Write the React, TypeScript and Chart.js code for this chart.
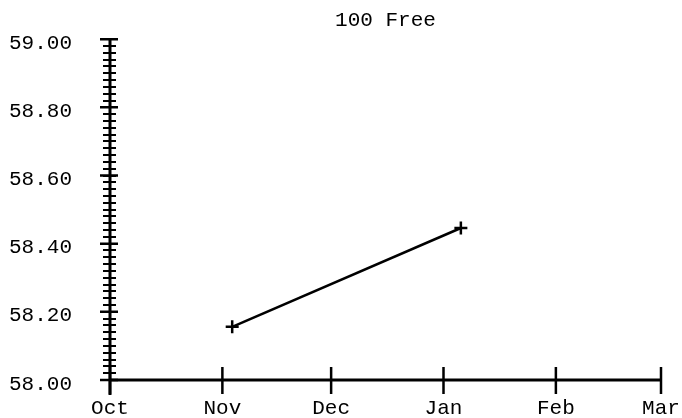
import React, { useEffect, useRef } from "react";
import { Chart, registerables } from "chart.js";

Chart.register(...registerables);

const TITLE = "100 Free";
const MONTH_STARTS = ["2019-10-01", "2019-11-01", "2019-12-01", "2020-01-01", "2020-02-01", "2020-03-01"];
const MONTH_LABELS = ["Oct", "Nov", "Dec", "Jan", "Feb", "Mar"];
const SWIM_DATES = ["2019-11-03T17:00:00Z", "2020-01-05T19:00:00Z"];
const SWIM_TIMES = [58.156, 58.446];
const Y_MIN = 58.0;
const Y_MAX = 59.0;
const Y_MAJOR_STEP = 0.2;
const Y_MINOR_STEP = 0.02;

const DAY = 86400000;
const toDay = (s: string) => Date.parse(s.length === 10 ? s + "T00:00:00Z" : s) / DAY;

const FONT = "'Liberation Mono', 'Courier New', monospace";

const axesPlugin = {
  id: "customAxes",
  afterDraw(chart: any) {
    const { ctx, chartArea, scales } = chart;
    const xs = scales.x;
    const ys = scales.y;
    const left = chartArea.left;
    const bottom = chartArea.bottom;
    ctx.save();
    ctx.strokeStyle = "#000";
    ctx.lineCap = "butt";
    ctx.lineWidth = 3;
    ctx.beginPath();
    ctx.moveTo(left, chartArea.top);
    ctx.lineTo(left, bottom + 15);
    ctx.moveTo(left, bottom);
    ctx.lineTo(chartArea.right, bottom);
    ctx.stroke();
    ctx.lineWidth = 2.5;
    ctx.beginPath();
    MONTH_STARTS.forEach((m) => {
      const px = xs.getPixelForValue(toDay(m));
      ctx.moveTo(px, bottom - 13);
      ctx.lineTo(px, bottom + 14);
    });
    ctx.stroke();
    ctx.lineWidth = 2;
    ctx.beginPath();
    const nMinor = Math.round((Y_MAX - Y_MIN) / Y_MINOR_STEP);
    for (let i = 0; i <= nMinor; i++) {
      const py = Math.round(ys.getPixelForValue(Y_MIN + i * Y_MINOR_STEP));
      ctx.moveTo(left - 7, py);
      ctx.lineTo(left + 6, py);
    }
    ctx.stroke();
    ctx.lineWidth = 2.5;
    ctx.beginPath();
    const nMajor = Math.round((Y_MAX - Y_MIN) / Y_MAJOR_STEP);
    for (let i = 0; i <= nMajor; i++) {
      const py = ys.getPixelForValue(Y_MIN + i * Y_MAJOR_STEP);
      ctx.moveTo(left - 10, py);
      ctx.lineTo(left + 8, py);
    }
    ctx.stroke();
    ctx.restore();
  },
};

export default function App() {
  const ref = useRef<HTMLCanvasElement | null>(null);
  useEffect(() => {
    document.body.style.margin = "0";
    const canvas = ref.current!;
    const data = SWIM_DATES.map((d, i) => ({ x: toDay(d), y: SWIM_TIMES[i] }));
    const chart = new Chart(canvas, {
      type: "line",
      data: {
        datasets: [
          {
            data,
            borderColor: "#000",
            backgroundColor: "#000",
            borderWidth: 2.5,
            pointStyle: "cross",
            pointRadius: 6.5,
            pointBorderWidth: 2.5,
            pointBorderColor: "#000",
            tension: 0,
          },
        ],
      },
      options: {
        animation: false,
        responsive: false,
        devicePixelRatio: 1,
        layout: { autoPadding: false, padding: { left: 0, right: 21, top: 0, bottom: 0 } },
        plugins: {
          legend: { display: false },
          tooltip: { enabled: false },
          title: {
            display: true,
            fullSize: false,
            text: TITLE,
            color: "#000",
            font: { family: FONT, size: 21, weight: "normal" },
            padding: { top: 8, bottom: 6 },
          },
        },
        scales: {
          x: {
            type: "linear",
            min: toDay(MONTH_STARTS[0]),
            max: toDay(MONTH_STARTS[MONTH_STARTS.length - 1]),
            grid: { display: false, drawTicks: false },
            border: { display: false },
            afterBuildTicks(scale: any) {
              scale.ticks = MONTH_STARTS.map((m) => ({ value: toDay(m) }));
            },
            afterFit(scale: any) {
              scale.height = 38;
              scale.paddingLeft = 0;
              scale.paddingRight = 0;
            },
            ticks: {
              autoSkip: false,
              maxRotation: 0,
              color: "#000",
              padding: 16,
              font: { family: FONT, size: 21 },
              callback(value: any) {
                const idx = MONTH_STARTS.findIndex((m) => Math.abs(toDay(m) - value) < 0.01);
                return idx >= 0 ? MONTH_LABELS[idx] : "";
              },
            },
          },
          y: {
            type: "linear",
            min: Y_MIN,
            max: Y_MAX,
            grid: { display: false, drawTicks: false },
            border: { display: false },
            afterFit(scale: any) {
              scale.width = 110;
              scale.paddingTop = 0;
              scale.paddingBottom = 0;
            },
            ticks: {
              stepSize: Y_MAJOR_STEP,
              color: "#000",
              padding: 38,
              labelOffset: 4,
              font: { family: FONT, size: 21 },
              callback(value: any) {
                return Number(value).toFixed(2);
              },
            },
          },
        },
      },
      plugins: [axesPlugin],
    });
    return () => chart.destroy();
  }, []);
  return <canvas ref={ref} width={682} height={418} style={{ display: "block" }} />;
}
